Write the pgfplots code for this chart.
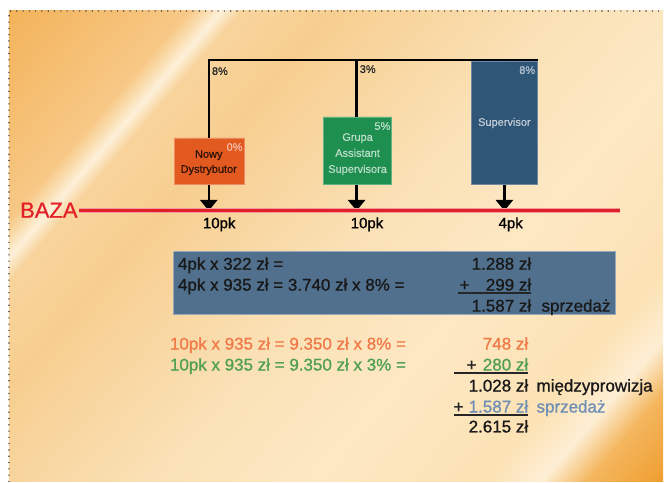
\documentclass[border=0pt]{standalone}
\usepackage{fontspec}
\setmainfont{Liberation Sans}
\newfontfamily\heavy[FakeBold=1]{Liberation Sans}
\newfontfamily\semi[FakeBold=0.6]{Liberation Sans}
\usepackage{pgfplots}
\pgfplotsset{compat=1.18}

% background colours along the diagonal, top-left to bottom-right
\definecolor{bg0}{HTML}{F3B35A}
\definecolor{bg1}{HTML}{F7C886}
\definecolor{bg2}{HTML}{FADBAA}
\definecolor{bg3}{HTML}{FDF0DA}
\definecolor{bg4}{HTML}{F8D49C}
\definecolor{bg5}{HTML}{F7CE90}
\definecolor{bg6}{HTML}{FAE1B6}
\definecolor{bg7}{HTML}{FDE8C4}
\definecolor{bg8}{HTML}{FCE2B4}
\definecolor{bg9}{HTML}{FDEED4}
\definecolor{bg10}{HTML}{F4B65E}
\definecolor{bg11}{HTML}{EF9E30}
% position along the diagonal = pixel projection + 84.2
\pgfdeclarehorizontalshading{bgshade}{1000bp}{color(0bp)=(bg0); color(98.8bp)=(bg0);
  color(234.2bp)=(bg1); color(246.2bp)=(bg2); color(259.2bp)=(bg3); color(274.2bp)=(bg4);
  color(344.2bp)=(bg5); color(514.2bp)=(bg6); color(634.2bp)=(bg7); color(764.2bp)=(bg8);
  color(809.2bp)=(bg9); color(844.2bp)=(bg10); color(901.2bp)=(bg11); color(1000bp)=(bg11)}

\definecolor{nowy}{HTML}{E35A20}
\definecolor{grupa}{HTML}{1E8F4E}
\definecolor{superv}{HTML}{2F5577}
\definecolor{calc}{HTML}{50708E}
\definecolor{baza}{HTML}{E2202A}
\definecolor{torange}{HTML}{F07A48}
\definecolor{tgreen}{HTML}{4FA052}
\definecolor{tblue}{HTML}{6F8FB5}

\tikzset{
  f22/.style={font=\semi\fontsize{22bp}{26bp}\selectfont, inner sep=0pt},
  f17/.style={font=\heavy\fontsize{17bp}{20bp}\selectfont, inner sep=0pt},
  f15/.style={font=\heavy\fontsize{15bp}{18bp}\selectfont, inner sep=0pt},
  f11/.style={font=\semi\fontsize{11bp}{13bp}\selectfont, inner sep=0pt},
}

\begin{document}
\begin{tikzpicture}
% page and background (canvas y = 482 - pixel y)
\fill[white] (0,0) rectangle (664bp,482bp);
\begin{scope}
  \clip (9bp,0bp) rectangle (664bp,471bp);
  \node[overlay, inner sep=0pt, rotate=-40.7] at (336.5bp,235.5bp) {\pgfuseshading{bgshade}};
\end{scope}
\begin{axis}[
  at={(0,0)}, anchor=south west,
  width=664bp, height=482bp, scale only axis,
  xmin=0, xmax=664, ymin=0, ymax=482, y dir=reverse,
  axis lines=none, clip=false, no markers,
]
\addplot[gray!55!black, line width=1.6bp, dash pattern=on 0pt off 6.3bp, line cap=round]
  coordinates {(9,482) (9,11) (664,11)};

% tree
\addplot[black, line width=2.5bp] coordinates {(209,138) (209,60) (539,60)};
\addplot[black, line width=2.5bp] coordinates {(357,60) (357,117)};

% boxes
\addplot[fill=nowy, draw=nowy!70!white, line width=0.6bp] coordinates {(175,138) (245,138) (245,185) (175,185) (175,138)};
\addplot[fill=grupa, draw=grupa!70!white, line width=0.6bp] coordinates {(324,117) (392,117) (392,185) (324,185) (324,117)};
\addplot[fill=superv, draw=superv!70!white, line width=0.6bp] coordinates {(472,61) (538,61) (538,185) (472,185) (472,61)};

% arrows down to the base
\addplot[black, line width=2.5bp] coordinates {(209,185) (209,202)};
\addplot[black, line width=2.5bp] coordinates {(357,185) (357,202)};
\addplot[black, line width=2.5bp] coordinates {(505,185) (505,202)};
\addplot[fill=black, draw=none] coordinates {(200,200) (218,200) (209,211)};
\addplot[fill=black, draw=none] coordinates {(348,200) (366,200) (357,211)};
\addplot[fill=black, draw=none] coordinates {(496,200) (514,200) (505,211)};

% base line
\addplot[baza!45!white, line width=5.5bp] coordinates {(79,211) (621,211)};
\addplot[baza, line width=2.6bp] coordinates {(79,211) (621,211)};
\node[f22, baza, anchor=base west] at (axis cs:20,218) {BAZA};

\node[f15, anchor=base west] at (axis cs:203,228.5) {10pk};
\node[f15, anchor=base west] at (axis cs:351,228.5) {10pk};
\node[f15, anchor=base west] at (axis cs:499,228.5) {4pk};

% labels of the tree
\node[f11, black!85, anchor=base west] at (axis cs:212,75) {8\%};
\node[f11, black!85, anchor=base west] at (axis cs:360,73) {3\%};

\node[f11, black!80!nowy, anchor=base] at (axis cs:209,158) {Nowy};
\node[f11, black!80!nowy, anchor=base] at (axis cs:209,173) {Dystrybutor};
\node[f11, nowy!40!white, anchor=base east] at (axis cs:243,151) {0\%};

\node[f11, grupa!30!white, anchor=base] at (axis cs:358,141) {Grupa};
\node[f11, grupa!30!white, anchor=base] at (axis cs:358,157) {Assistant};
\node[f11, grupa!30!white, anchor=base] at (axis cs:358,173) {Supervisora};
\node[f11, grupa!30!white, anchor=base east] at (axis cs:391,130) {5\%};

\node[f11, superv!30!white, anchor=base] at (axis cs:505,126) {Supervisor};
\node[f11, superv!35!white, anchor=base east] at (axis cs:536,74) {8\%};

% calculation for the supervisor
\addplot[fill=calc, draw=calc!60!white, line width=0.6bp] coordinates {(174,252) (616,252) (616,315) (174,315) (174,252)};
\node[f17, black!90, anchor=base west] at (axis cs:178,270) {4pk x 322 zł =};
\node[f17, black!90, anchor=base east] at (axis cs:532,270) {1.288 zł};
\node[f17, black!90, anchor=base west] at (axis cs:178,291) {4pk x 935 zł = 3.740 zł x 8\% =};
\node[f17, black!90, anchor=base west] at (axis cs:460,291) {+};
\node[f17, black!90, anchor=base east] at (axis cs:532,291) {299 zł};
\addplot[black!85, line width=2bp] coordinates {(459,293) (532,293)};
\node[f17, black!90, anchor=base east] at (axis cs:532,312) {1.587 zł};
\node[f17, black!90, anchor=base west] at (axis cs:542,312) {sprzedaż};

% override commissions
\node[f17, torange, anchor=base west] at (axis cs:170,350) {10pk x 935 zł = 9.350 zł x 8\% =};
\node[f17, torange, anchor=base east] at (axis cs:529,350) {748 zł};
\node[f17, tgreen, anchor=base west] at (axis cs:170,371) {10pk x 935 zł = 9.350 zł x 3\% =};
\node[f17, black!85, anchor=base west] at (axis cs:467,371) {+};
\node[f17, tgreen, anchor=base east] at (axis cs:529,371) {280 zł};
\addplot[black!85, line width=2bp] coordinates {(455,373) (529,373)};
\node[f17, black!90, anchor=base east] at (axis cs:529,392) {1.028 zł};
\node[f17, black!90, anchor=base west] at (axis cs:537,392) {międzyprowizja};
\node[f17, black!85, anchor=base west] at (axis cs:454,413) {+};
\node[f17, tblue, anchor=base east] at (axis cs:529,413) {1.587 zł};
\node[f17, tblue, anchor=base west] at (axis cs:537,413) {sprzedaż};
\addplot[black!85, line width=2bp] coordinates {(455,415) (529,415)};
\node[f17, black!90, anchor=base east] at (axis cs:529,433) {2.615 zł};
\end{axis}
\end{tikzpicture}
\end{document}
